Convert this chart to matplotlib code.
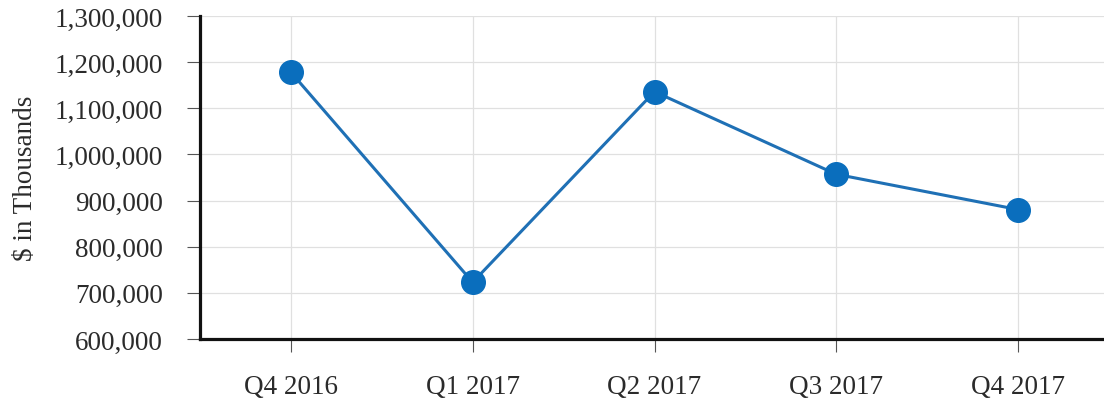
import matplotlib
matplotlib.use("Agg")
import matplotlib.pyplot as plt
from matplotlib.ticker import FuncFormatter

quarters = ["Q4 2016", "Q1 2017", "Q2 2017", "Q3 2017", "Q4 2017"]
values = [1178000, 723000, 1136000, 957000, 880500]
y_ticks = [600000, 700000, 800000, 900000, 1000000, 1100000, 1200000, 1300000]

plt.rcParams["font.family"] = ["Liberation Serif", "DejaVu Serif"]

fig = plt.figure(figsize=(11.04, 4.06), dpi=100)
ax = fig.add_axes([200/1104, 1-340/406, 909/1104, (340-17)/406])

x = list(range(len(quarters)))
ax.plot(x, values, color="#1f70b5", linewidth=2.2, marker="o", markersize=17,
        markerfacecolor="#0a6ebd", markeredgecolor="#0a6ebd", zorder=3, clip_on=False)

ax.set_xlim(-0.5, 4.5)
ax.set_ylim(600000, 1300000)
ax.set_yticks(y_ticks)
ax.yaxis.set_major_formatter(FuncFormatter(lambda v, p: f"{int(v):,}"))
ax.set_xticks(x)
ax.set_xticklabels(quarters)

ax.grid(True, color="#e0e0e0", linewidth=0.9, zorder=0)
ax.set_axisbelow(True)
for s in ["top", "right"]:
    ax.spines[s].set_visible(False)
for s in ["left", "bottom"]:
    ax.spines[s].set_color("#111111")
    ax.spines[s].set_linewidth(2.3)

ax.tick_params(axis="both", length=9.5, width=0.8, color="#555555",
               labelsize=19.5, labelcolor="#2b2b2b")
ax.tick_params(axis="y", pad=17)
ax.tick_params(axis="x", pad=16)

ax.set_ylabel("$ in Thousands", fontsize=19.5, color="#2b2b2b", labelpad=12)

fig.savefig("out.png", dpi=100)
